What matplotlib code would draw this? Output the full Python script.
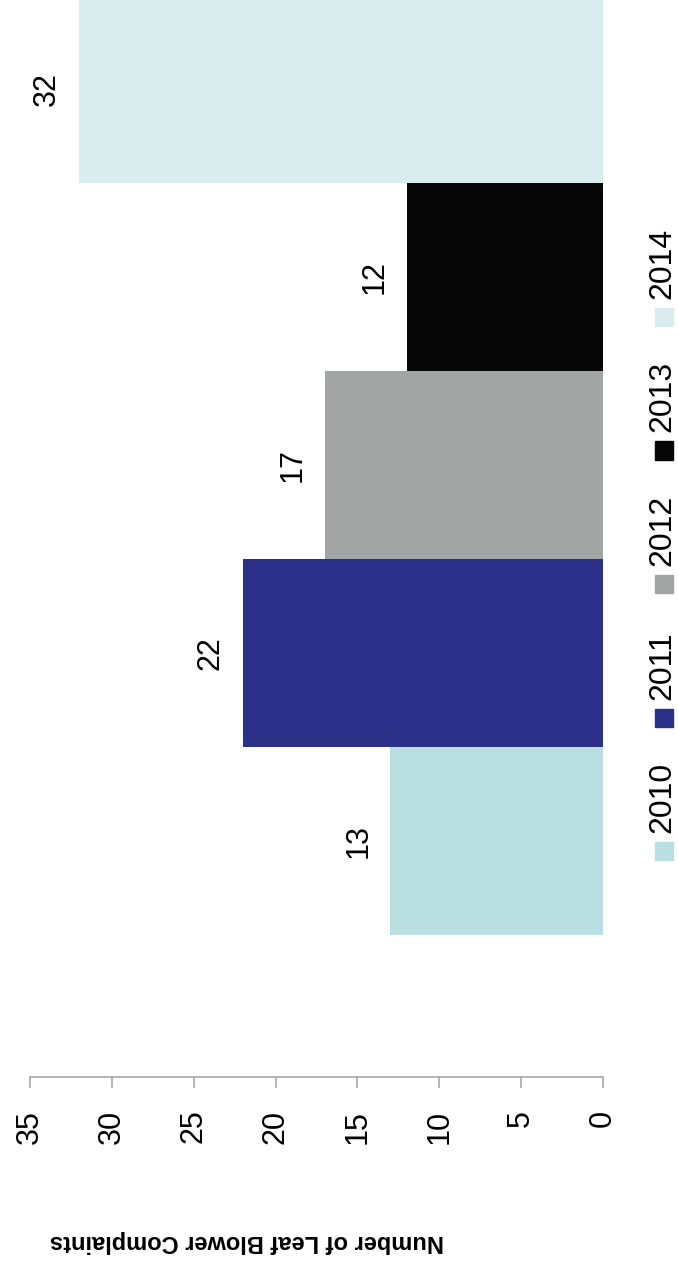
import matplotlib
matplotlib.use('Agg')
import matplotlib.pyplot as plt
from matplotlib.patches import Rectangle

# Datos: quejas por sopladores de hojas por año
anios = ['2010', '2011', '2012', '2013', '2014']
quejas = [13, 22, 17, 12, 32]
colores = ['#B9DFE2', '#2B3088', '#A3A4A4', '#060606', '#D9ECEE']
ticks_valor = [0, 5, 10, 15, 20, 25, 30, 35]

plt.rcParams['font.family'] = ['Liberation Sans', 'DejaVu Sans']

W, H = 678, 1265
fig = plt.figure(figsize=(W / 100, H / 100), dpi=100)

# El gráfico original está girado 90° (barras horizontales, eje de valores abajo e invertido)
ax = fig.add_axes([30 / W, 188 / H, 573 / W, 1077 / H])
pos = range(len(anios))
ax.barh(pos, quejas, height=1.0, color=colores, edgecolor='none')
ax.set_xlim(35, 0)
ax.set_ylim(-1.255, 4.473)

ax.set_xticks(ticks_valor)
ax.set_xticklabels([str(t) for t in ticks_valor], rotation=90, fontsize=22, va='top')
ax.tick_params(axis='x', direction='out', length=8, width=1.1, color='#A0A0A0', pad=15.5)
ax.set_yticks([])
for lado in ['top', 'right', 'left']:
    ax.spines[lado].set_visible(False)
ax.spines['bottom'].set_color('#A0A0A0')
ax.spines['bottom'].set_linewidth(1.1)

# Etiquetas de valor
for i, v in enumerate(quejas):
    ax.annotate(str(v), xy=(v, i), xytext=(-23, 0), textcoords='offset points',
                ha='center', va='center', rotation=90, fontsize=22)

# Título del eje (al revés, como en la imagen)
fig.text(247 / W, 1 - 1242 / H, 'Number of Leaf Blower Complaints', rotation=180,
         ha='center', va='center', fontsize=17, fontweight='bold')

# Leyenda manual girada
lado = 18
for i, (a, c) in enumerate(zip(anios, colores)):
    cy = 851 - 133.5 * i
    fig.patches.append(Rectangle(((664 - lado / 2) / W, 1 - (cy + lado / 2) / H), lado / W, lado / H,
                                 transform=fig.transFigure, color=c, figure=fig))
    fig.text(662 / W, 1 - (cy - 18) / H, a, rotation=90, ha='center', va='bottom', fontsize=23)

fig.savefig('out.png', dpi=100)
